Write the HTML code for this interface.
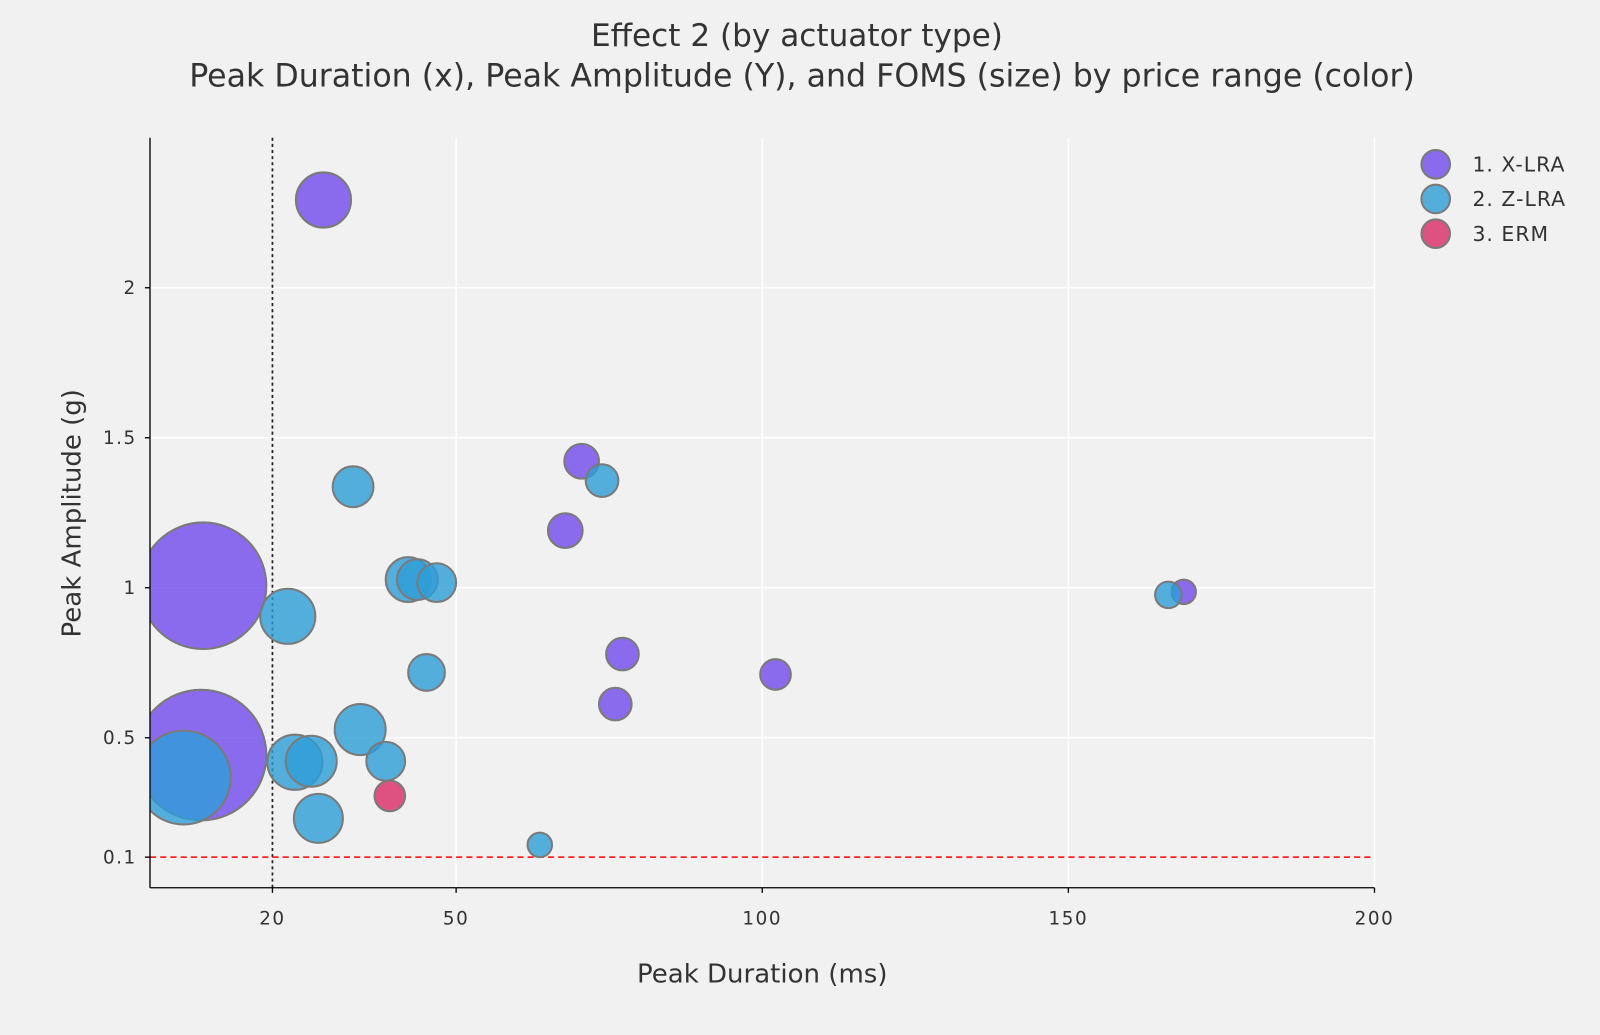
<!DOCTYPE html>
<html><head><meta charset="utf-8"><style>
html,body{margin:0;padding:0;background:#f1f1f1;}
svg{display:block;}
text{font-family:"DejaVu Sans","Liberation Sans",sans-serif;fill:#333;}
</style></head><body>
<svg width="1600" height="1035" viewBox="0 0 1568 1014.3" xmlns="http://www.w3.org/2000/svg">
<rect x="0" y="0" width="1568" height="1015" fill="#f1f1f1"/>
<defs><clipPath id="c"><rect x="147" y="135" width="1200" height="735"/></clipPath></defs>
<g stroke="#fff" stroke-width="1.5">
<line x1="447" y1="135" x2="447" y2="870"/><line x1="747" y1="135" x2="747" y2="870"/>
<line x1="1047" y1="135" x2="1047" y2="870"/><line x1="1347" y1="135" x2="1347" y2="870"/>
<line x1="147" y1="282" x2="1347" y2="282"/><line x1="147" y1="429" x2="1347" y2="429"/>
<line x1="147" y1="576" x2="1347" y2="576"/><line x1="147" y1="723" x2="1347" y2="723"/>
</g>
<line x1="267" y1="135" x2="267" y2="870" stroke="#222" stroke-width="1.7" stroke-dasharray="3,3"/>
<line x1="147" y1="840" x2="1347" y2="840" stroke="#f00" stroke-width="1.5" stroke-dasharray="6,4"/>
<g clip-path="url(#c)" stroke="#7a7a7a" stroke-width="2" fill-opacity="0.8">
<g fill="rgb(112,72,236)">
<circle cx="317" cy="196" r="27"/><circle cx="199" cy="574" r="62"/><circle cx="197" cy="740" r="64"/>
<circle cx="570" cy="452" r="17"/><circle cx="554" cy="520" r="17"/><circle cx="610" cy="641" r="16"/>
<circle cx="603" cy="690" r="16"/><circle cx="760" cy="661" r="15"/><circle cx="1160" cy="580" r="12"/>
</g>
<g fill="rgb(45,157,215)">
<circle cx="346" cy="477" r="20"/><circle cx="282" cy="604" r="27"/><circle cx="400" cy="568" r="22"/>
<circle cx="409" cy="568" r="20"/><circle cx="428" cy="571" r="19"/><circle cx="418" cy="659" r="18"/>
<circle cx="353" cy="715" r="25"/><circle cx="289" cy="747" r="27"/><circle cx="305" cy="746" r="25"/>
<circle cx="378" cy="746" r="19"/><circle cx="312" cy="802" r="24"/><circle cx="180" cy="762" r="46"/>
<circle cx="529" cy="828" r="12"/><circle cx="590" cy="471" r="16"/><circle cx="1145" cy="583" r="13"/>
</g>
<g fill="rgb(217,42,102)"><circle cx="382" cy="780" r="15"/></g>
</g>
<g stroke="#000" stroke-width="1.3">
<line x1="147" y1="135" x2="147" y2="870"/><line x1="147" y1="870" x2="1347" y2="870"/>
<line x1="142" y1="282" x2="147" y2="282"/><line x1="142" y1="429" x2="147" y2="429"/>
<line x1="142" y1="576" x2="147" y2="576"/><line x1="142" y1="723" x2="147" y2="723"/>
<line x1="142" y1="840" x2="147" y2="840"/>
<line x1="267" y1="870" x2="267" y2="875"/><line x1="447" y1="870" x2="447" y2="875"/>
<line x1="747" y1="870" x2="747" y2="875"/><line x1="1047" y1="870" x2="1047" y2="875"/>
<line x1="1347" y1="870" x2="1347" y2="875"/>
</g>
<g font-size="18" text-anchor="end" letter-spacing="1.5">
<text x="134" y="288">2</text><text x="134" y="435">1.5</text><text x="134" y="582">1</text>
<text x="134" y="729">0.5</text><text x="134" y="846">0.1</text>
</g>
<g font-size="18" text-anchor="middle" letter-spacing="1.5">
<text x="267" y="906">20</text><text x="447" y="906">50</text><text x="747" y="906">100</text>
<text x="1047" y="906">150</text><text x="1347" y="906">200</text>
</g>
<g text-anchor="middle">
<text x="781" y="45" font-size="30.5">Effect 2 (by actuator type)</text>
<text x="786" y="85" font-size="31">Peak Duration (x), Peak Amplitude (Y), and FOMS (size) by price range (color)</text>
<text x="747" y="963" font-size="25.5">Peak Duration (ms)</text>
<text x="0" y="0" font-size="25.5" transform="translate(79,503) rotate(-90)">Peak Amplitude (g)</text>
</g>
<g stroke="#7a7a7a" stroke-width="2" fill-opacity="0.8">
<circle cx="1407" cy="161" r="14" fill="rgb(112,72,236)"/>
<circle cx="1407" cy="195" r="14" fill="rgb(45,157,215)"/>
<circle cx="1407" cy="229" r="14" fill="rgb(217,42,102)"/>
</g>
<g font-size="20" letter-spacing="1">
<text x="1443" y="168">1. X-LRA</text><text x="1443" y="202">2. Z-LRA</text><text x="1443" y="236">3. ERM</text>
</g>
</svg>
</body></html>
